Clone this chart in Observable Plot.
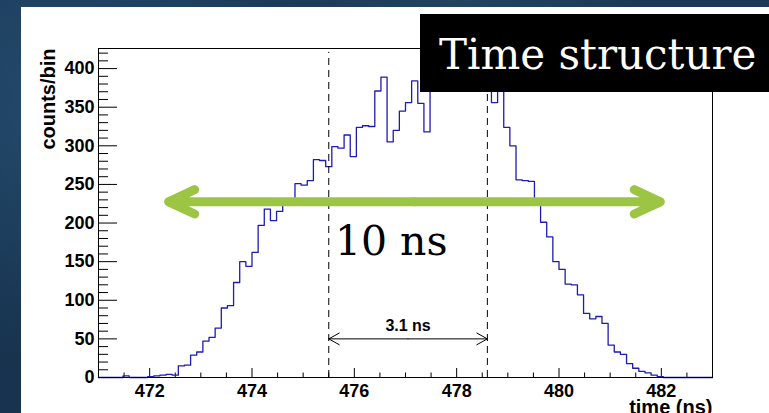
<!DOCTYPE html>
<html>
<head>
<meta charset="utf-8">
<script src="https://cdn.jsdelivr.net/npm/d3@7"></script>
<script src="https://cdn.jsdelivr.net/npm/@observablehq/plot@0.6"></script>
<style>
  html, body { margin: 0; padding: 0; }
  body {
    width: 769px; height: 413px; overflow: hidden; position: relative;
    background:
      radial-gradient(circle at 8% 25%, #244a6c 0, rgba(36,74,108,0) 35%),
      radial-gradient(circle at 4% 75%, #16314c 0, rgba(22,49,76,0) 45%),
      radial-gradient(circle at 60% 0%, #21445f 0, rgba(33,68,95,0) 30%),
      #1b3957;
  }
  #panel { position: absolute; left: 21px; top: 7px; width: 748px; height: 406px; background: #ffffff; }
  #chart { position: absolute; left: 0; top: 0; }
  #title {
    position: absolute; left: 420px; top: 14px; width: 349px; height: 76px; padding-top: 2px;
    background: #000; color: #fff; font-family: "DejaVu Serif", serif; font-size: 42px;
    line-height: 78px; white-space: nowrap; box-sizing: content-box;
  }
  #title span { position: absolute; left: 19px; top: 2px; }
</style>
</head>
<body>
<div id="panel"></div>
<div id="chart"></div>
<div id="title"><span>Time structure</span></div>
<script>
// ---- data ----
const binStart = 471;          // ns, left edge of first bin
const binWidth = 0.12;         // ns
const counts = [
  0, 0, 0, 0, 2, 0, 0, 0, 1, 2,
  3, 4, 3, 15, 16, 29, 33, 47, 52, 64,
  90, 93, 123, 150, 144, 162, 197, 218, 203, 215,
  226, 230, 251, 249, 255, 282, 281, 273, 299, 297,
  314, 286, 324, 326, 325, 371, 389, 305, 320, 345,
  356, 384, 355, 318, 392, 378, 398, 405, 388, 402,
  384, 396, 386, 378, 356, 382, 324, 300, 256, 255,
  254, 228, 201, 182, 150, 140, 121, 120, 107, 83,
  76, 79, 70, 42, 33, 30, 18, 12, 8, 6,
  3, 1, 0, 0, 0, 0, 0, 0, 0, 0
];
const xDomain = [471, 483];
const yDomain = [0, 426];
const yMajorTicks = [0, 50, 100, 150, 200, 250, 300, 350, 400];
const yMinorTicks = [10,20,30,40,60,70,80,90,110,120,130,140,160,170,180,190,210,220,230,240,260,270,280,290,310,320,330,340,360,370,380,390,410,420];
const xMajorTicks = [472, 474, 476, 478, 480, 482];
const xMinorTicks = [471.5,472.5,473,473.5,474.5,475,475.5,476.5,477,477.5,478.5,479,479.5,480.5,481,481.5,482.5];
const markerTimes = [475.5, 478.6];      // dashed lines
const markerTop = 421;
const widthLabel = "3.1 ns";
const widthLabelY = 60;
const widthArrowY = 50;
const spanLabel = "10 ns";
const spanLabelX = 475.62;
const spanLabelY = 158;
const spanArrowEnds = [472.37, 481.98];
const spanArrowY = 227.5;
const xLabel = "time (ns)";
const yLabel = "counts/bin";

// ---- build ----
const hist = counts.map((c, i) => ({t: binStart + i * binWidth, c}));
hist.push({t: binStart + counts.length * binWidth, c: counts[counts.length - 1]});

const W = 769, H = 413, mL = 98, mR = 57, mT = 48, mB = 36;
const pw = W - mL - mR, ph = H - mT - mB;

const spanMid = (spanArrowEnds[0] + spanArrowEnds[1]) / 2;
const spanArrows = spanArrowEnds.map(e => ({x1: spanMid, x2: e}));
const widthMid = (markerTimes[0] + markerTimes[1]) / 2;
const widthArrows = markerTimes.map(e => ({x1: widthMid, x2: e}));

const sans = "'Liberation Sans', Arial, Helvetica, sans-serif";
const green = "#9dc544";

const chart = Plot.plot({
  width: W, height: H,
  marginLeft: mL, marginRight: mR, marginTop: mT, marginBottom: mB,
  style: {background: "transparent", color: "black", fontFamily: sans},
  x: {domain: xDomain, label: null},
  y: {domain: yDomain, label: null},
  marks: [
    Plot.tickY(yMinorTicks, {y: d => d, insetRight: pw - 10, stroke: "black", strokeWidth: 1}),
    Plot.tickY(yMajorTicks, {y: d => d, insetRight: pw - 19, stroke: "black", strokeWidth: 1}),
    Plot.tickX(xMinorTicks, {x: d => d, insetTop: ph - 4.5, stroke: "black", strokeWidth: 1}),
    Plot.tickX(xMajorTicks, {x: d => d, insetTop: ph - 9, stroke: "black", strokeWidth: 1}),
    Plot.axisY(yMajorTicks, {tickSize: 0, tickPadding: 4, fontSize: 18, fontWeight: "bold", fill: "black"}),
    Plot.axisX(xMajorTicks, {tickSize: 0, tickPadding: 7, fontSize: 18, fontWeight: "bold", fill: "black"}),
    Plot.line(hist, {x: "t", y: "c", curve: "step-after", stroke: "#1c1cae", strokeWidth: 1.3}),
    Plot.ruleX(markerTimes, {x: d => d, y1: 0, y2: markerTop, stroke: "black", strokeWidth: 1, strokeDasharray: "7,5"}),
    Plot.arrow(widthArrows, {x1: "x1", x2: "x2", y1: widthArrowY, y2: widthArrowY, stroke: "black", strokeWidth: 1, headLength: 18, headAngle: 58}),
    Plot.text([widthLabel], {text: d => d, x: widthMid, y: widthLabelY, textAnchor: "middle", lineAnchor: "bottom", fontSize: 16, fontWeight: "bold", fill: "black"}),
    Plot.text([spanLabel], {text: d => d, x: spanLabelX, y: spanLabelY, textAnchor: "start", lineAnchor: "bottom", fontSize: 41, fontFamily: "'DejaVu Serif', serif", fill: "black"}),
    Plot.frame({stroke: "black", strokeWidth: 1}),
    Plot.arrow(spanArrows, {x1: "x1", x2: "x2", y1: spanArrowY, y2: spanArrowY, stroke: green, strokeWidth: 9, headLength: 4.8, headAngle: 50, strokeLinecap: "round", strokeLinejoin: "round"}),
    Plot.text([yLabel], {text: d => d, frameAnchor: "top-left", rotate: -90, textAnchor: "end", lineAnchor: "middle", dx: -50, fontSize: 20, fontWeight: "bold", fill: "black"}),
    Plot.text([xLabel], {text: d => d, frameAnchor: "bottom-right", textAnchor: "end", lineAnchor: "top", dy: 22, fontSize: 20, fontWeight: "bold", fill: "black"})
  ]
});
document.getElementById("chart").appendChild(chart);
</script>
</body>
</html>
